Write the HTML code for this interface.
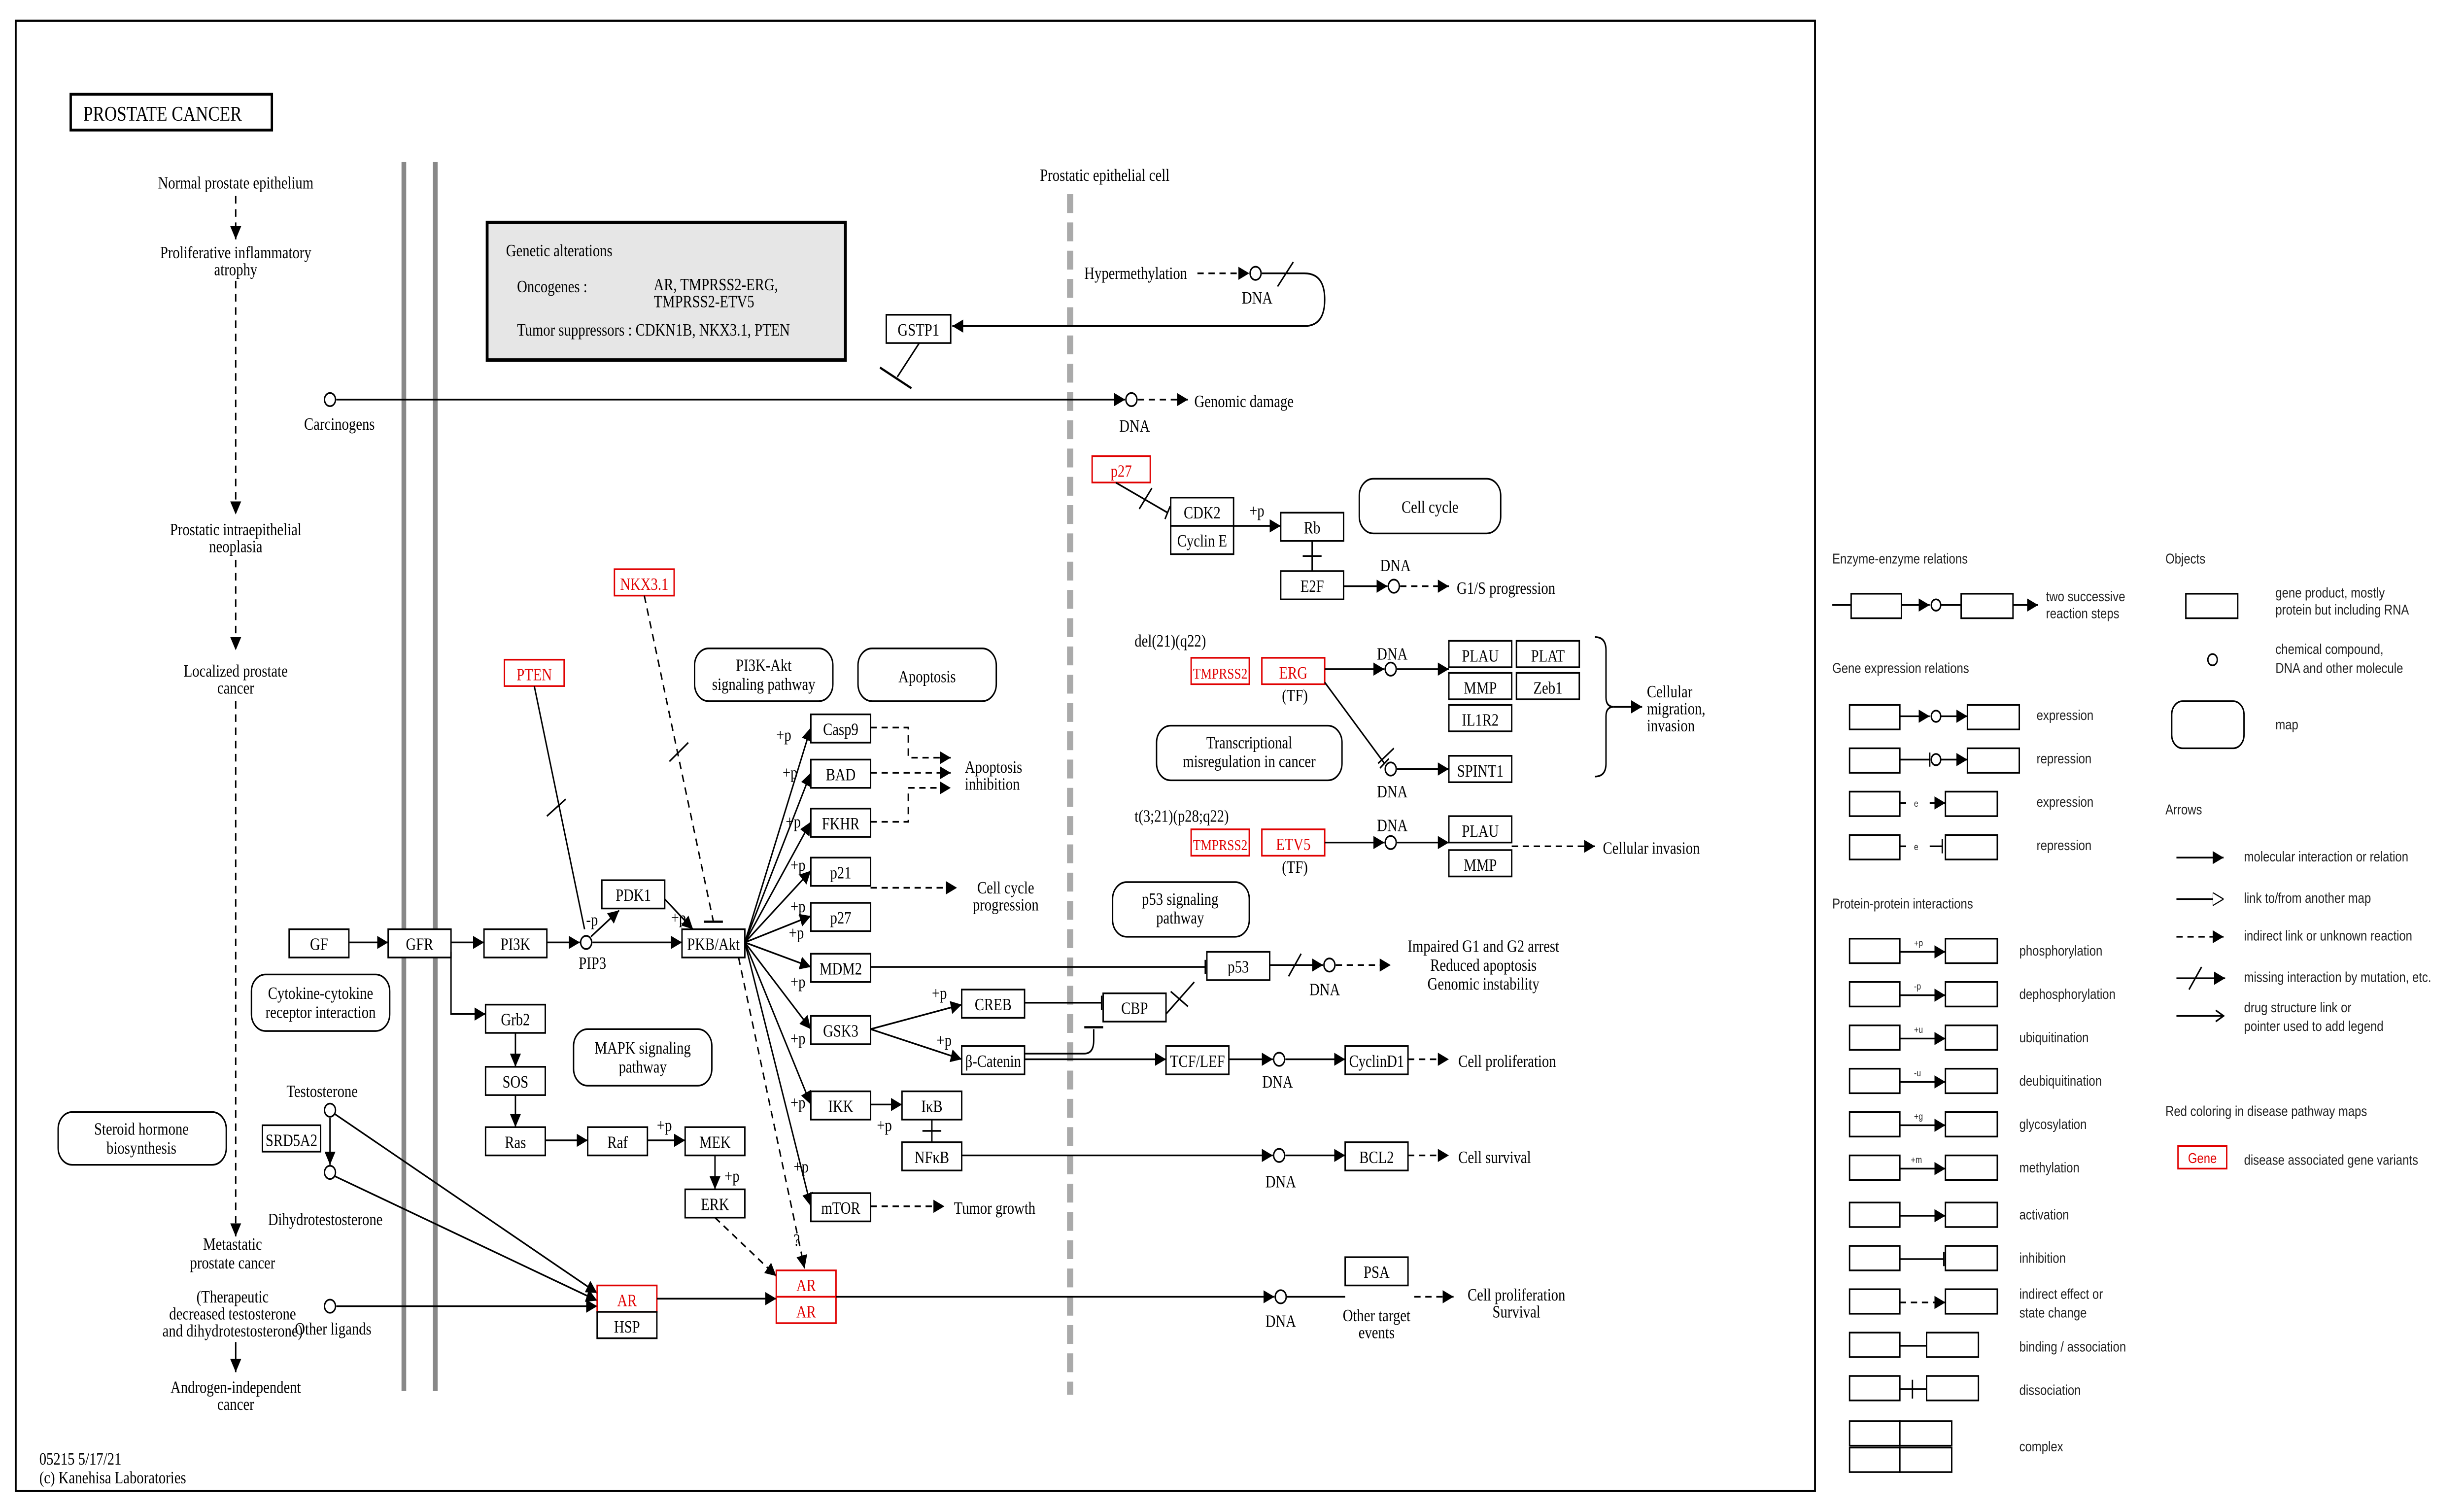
<!DOCTYPE html>
<html><head><meta charset="utf-8"><style>
html,body{margin:0;padding:0;background:#fff;overflow:hidden;width:100%;height:100%;}
svg{display:block;position:fixed;left:0;top:0;width:100vw;height:100vh;}
.s{font-family:"Liberation Serif",serif;font-size:9px;fill:#000;}
.l{font-family:"Liberation Sans",sans-serif;font-size:7.5px;fill:#222;}
.r{fill:#e00000;}
rect{fill:#fff;stroke:#000;stroke-width:0.9;}
line,path,polyline{stroke:#000;stroke-width:0.9;fill:none;}
.d{stroke-dasharray:4,3;}
circle{fill:#fff;stroke:#000;stroke-width:0.9;}
.rr{stroke:#e00000;}
</style></head><body>
<svg viewBox="0 0 1568 799" preserveAspectRatio="none">
<defs>
<marker id="a" viewBox="0 0 10 10" refX="10" refY="5" markerWidth="7" markerHeight="7" markerUnits="userSpaceOnUse" orient="auto"><path d="M0,0L10,5L0,10z" style="fill:#000;stroke:none"/></marker>
<marker id="o" viewBox="0 0 10 10" refX="10" refY="5" markerWidth="7" markerHeight="7" markerUnits="userSpaceOnUse" orient="auto"><path d="M0,0L10,5L0,10z" style="fill:#fff;stroke:#000"/></marker>
<marker id="t" viewBox="0 0 4 10" refX="2" refY="5" markerWidth="3" markerHeight="9" markerUnits="userSpaceOnUse" orient="auto"><path d="M2,0V10" style="stroke:#000;stroke-width:1.2"/></marker>
</defs>
<rect x="10" y="11" width="1145" height="780" style="stroke-width:1.2"/>
<rect x="45" y="50" width="128" height="19" style="stroke-width:1.5"/>
<text class="s" x="53" y="64" style="font-size:11px">PROSTATE CANCER</text>

<g class="s" text-anchor="middle">
<text x="150" y="100">Normal prostate epithelium</text>
<text x="150" y="137">Proliferative inflammatory</text><text x="150" y="146">atrophy</text>
<text x="150" y="284">Prostatic intraepithelial</text><text x="150" y="293">neoplasia</text>
<text x="150" y="359">Localized prostate</text><text x="150" y="368">cancer</text>
<text x="148" y="663">Metastatic</text><text x="148" y="673">prostate cancer</text>
<text x="148" y="691">(Therapeutic</text><text x="148" y="700">decreased testosterone</text><text x="148" y="709">and dihydrotestosterone)</text>
<text x="150" y="739">Androgen-independent</text><text x="150" y="748">cancer</text>
</g>
<line class="d" x1="150" y1="104" x2="150" y2="127" marker-end="url(#a)"/>
<line class="d" x1="150" y1="149" x2="150" y2="273" marker-end="url(#a)"/>
<line class="d" x1="150" y1="297" x2="150" y2="345" marker-end="url(#a)"/>
<line class="d" x1="150" y1="372" x2="150" y2="656" marker-end="url(#a)"/>
<line x1="150" y1="712" x2="150" y2="728" marker-end="url(#a)"/>

<line x1="257" y1="86" x2="257" y2="738" style="stroke:#888;stroke-width:3"/>
<line x1="277" y1="86" x2="277" y2="738" style="stroke:#888;stroke-width:3"/>
<line x1="681" y1="103" x2="681" y2="740" style="stroke:#aaa;stroke-width:4;stroke-dasharray:10,5"/>
<text class="s" x="703" y="96" text-anchor="middle">Prostatic epithelial cell</text>

<rect x="310" y="118" width="228" height="73" style="fill:#e6e6e6;stroke-width:1.8"/>
<text class="s" x="322" y="136">Genetic alterations</text>
<text class="s" x="329" y="155">Oncogenes :</text>
<text class="s" x="416" y="154">AR, TMPRSS2-ERG,</text>
<text class="s" x="416" y="163">TMPRSS2-ETV5</text>
<text class="s" x="329" y="178">Tumor suppressors :  CDKN1B, NKX3.1, PTEN</text>

<circle cx="210" cy="212" r="3.5"/>
<text class="s" x="216" y="228" text-anchor="middle">Carcinogens</text>
<line x1="214" y1="212" x2="716" y2="212" marker-end="url(#a)"/>
<circle cx="720" cy="212" r="3.5"/>
<line class="d" x1="724" y1="212" x2="756" y2="212" marker-end="url(#a)"/>
<text class="s" x="760" y="216">Genomic damage</text>
<text class="s" x="722" y="229" text-anchor="middle">DNA</text>

<text class="s" x="690" y="148">Hypermethylation</text>
<line class="d" x1="762" y1="145" x2="795" y2="145" marker-end="url(#a)"/>
<circle cx="799" cy="145" r="3.5"/>
<text class="s" x="800" y="161" text-anchor="middle">DNA</text>
<path d="M803,145H830Q843,145 843,159Q843,173 830,173H606" marker-end="url(#a)"/>
<line x1="813" y1="152" x2="823" y2="139"/>
<rect x="564" y="167" width="41" height="15"/><text class="s" x="584.5" y="178" text-anchor="middle">GSTP1</text>
<line x1="585" y1="182" x2="571" y2="200"/><line x1="560" y1="195" x2="580" y2="206" style="stroke-width:1.2"/>

<rect x="695" y="242" width="37" height="14" class="rr"/><text class="s r" x="713.5" y="253" text-anchor="middle">p27</text>
<line x1="710" y1="256" x2="743" y2="272" marker-end="url(#t)"/>
<line x1="725" y1="270" x2="733" y2="259"/>
<rect x="745" y="264" width="40" height="15"/><text class="s" x="765" y="275" text-anchor="middle">CDK2</text>
<rect x="745" y="279" width="40" height="15"/><text class="s" x="765" y="290" text-anchor="middle">Cyclin E</text>
<text class="s" x="795" y="274">+p</text>
<line x1="785" y1="279" x2="815" y2="279" marker-end="url(#a)"/>
<rect x="815" y="272" width="40" height="15"/><text class="s" x="835" y="283" text-anchor="middle">Rb</text>
<line x1="835" y1="287" x2="835" y2="303"/><line x1="829" y1="295" x2="841" y2="295"/>
<rect x="815" y="303" width="40" height="15"/><text class="s" x="835" y="314" text-anchor="middle">E2F</text>
<line x1="855" y1="311" x2="883" y2="311" marker-end="url(#a)"/>
<circle cx="887" cy="311" r="3.5"/><text class="s" x="888" y="303" text-anchor="middle">DNA</text>
<line class="d" x1="891" y1="311" x2="922" y2="311" marker-end="url(#a)"/>
<text class="s" x="927" y="315">G1/S progression</text>
<rect x="865" y="254" width="90" height="29" rx="9"/><text class="s" x="910" y="272" text-anchor="middle">Cell cycle</text>

<rect x="391" y="302" width="38" height="14" class="rr"/><text class="s r" x="410" y="313" text-anchor="middle">NKX3.1</text>
<line class="d" x1="410" y1="316" x2="454" y2="489"/>
<line x1="448" y1="489" x2="460" y2="489" style="stroke-width:1.2"/>
<line x1="426" y1="404" x2="438" y2="394"/>
<rect x="321" y="350" width="38" height="14" class="rr"/><text class="s r" x="340" y="361" text-anchor="middle">PTEN</text>
<line x1="340" y1="364" x2="372" y2="493"/>
<line x1="348" y1="433" x2="360" y2="424"/>
<rect x="442" y="344" width="88" height="28" rx="9"/><text class="s" x="486" y="356" text-anchor="middle">PI3K-Akt</text><text class="s" x="486" y="366" text-anchor="middle">signaling pathway</text>
<rect x="546" y="344" width="88" height="28" rx="9"/><text class="s" x="590" y="362" text-anchor="middle">Apoptosis</text>

<rect x="184" y="493" width="38" height="15"/><text class="s" x="203" y="504" text-anchor="middle">GF</text>
<line x1="222" y1="500" x2="247" y2="500" marker-end="url(#a)"/>
<rect x="247" y="493" width="40" height="15"/><text class="s" x="267" y="504" text-anchor="middle">GFR</text>
<line x1="287" y1="500" x2="308" y2="500" marker-end="url(#a)"/>
<rect x="308" y="493" width="40" height="15"/><text class="s" x="328" y="504" text-anchor="middle">PI3K</text>
<line x1="348" y1="500" x2="369" y2="500" marker-end="url(#a)"/>
<circle cx="373" cy="500" r="3.5"/><text class="s" x="377" y="514" text-anchor="middle">PIP3</text>
<text class="s" x="373" y="491">-p</text>
<line x1="376" y1="497" x2="394" y2="483" marker-end="url(#a)"/>
<rect x="383" y="467" width="40" height="15"/><text class="s" x="403" y="478" text-anchor="middle">PDK1</text>
<text class="s" x="427" y="490">+p</text>
<line x1="423" y1="477" x2="441" y2="493" marker-end="url(#a)"/>
<line x1="377" y1="500" x2="434" y2="500" marker-end="url(#a)"/>
<rect x="434" y="493" width="40" height="15"/><text class="s" x="454" y="504" text-anchor="middle">PKB/Akt</text>

<g>
<line x1="474" y1="500" x2="516" y2="386" marker-end="url(#a)"/>
<line x1="474" y1="500" x2="516" y2="410" marker-end="url(#a)"/>
<line x1="474" y1="500" x2="516" y2="436" marker-end="url(#a)"/>
<line x1="474" y1="500" x2="516" y2="462" marker-end="url(#a)"/>
<line x1="474" y1="500" x2="516" y2="486" marker-end="url(#a)"/>
<line x1="474" y1="500" x2="516" y2="513" marker-end="url(#a)"/>
<line x1="474" y1="500" x2="516" y2="546" marker-end="url(#a)"/>
<line x1="474" y1="500" x2="516" y2="586" marker-end="url(#a)"/>
<line x1="474" y1="500" x2="516" y2="640" marker-end="url(#a)"/>
<line class="d" x1="470" y1="508" x2="512" y2="673" marker-end="url(#a)"/>
</g>
<g class="s">
<text x="494" y="393">+p</text><text x="498" y="413">+p</text><text x="500" y="439">+p</text><text x="503" y="462">+p</text>
<text x="503" y="484">+p</text><text x="502" y="498">+p</text><text x="503" y="524">+p</text><text x="503" y="554">+p</text>
<text x="503" y="588">+p</text><text x="505" y="622">+p</text><text x="505" y="661">?</text>
</g>
<g class="s" text-anchor="middle">
<rect x="516" y="379" width="38" height="15"/><text x="535" y="390">Casp9</text>
<rect x="516" y="403" width="38" height="15"/><text x="535" y="414">BAD</text>
<rect x="516" y="429" width="38" height="15"/><text x="535" y="440">FKHR</text>
<rect x="516" y="455" width="38" height="15"/><text x="535" y="466">p21</text>
<rect x="516" y="479" width="38" height="15"/><text x="535" y="490">p27</text>
<rect x="516" y="506" width="38" height="15"/><text x="535" y="517">MDM2</text>
<rect x="516" y="539" width="38" height="15"/><text x="535" y="550">GSK3</text>
<rect x="516" y="579" width="38" height="15"/><text x="535" y="590">IKK</text>
<rect x="516" y="633" width="38" height="15"/><text x="535" y="644">mTOR</text>
</g>
<path class="d" d="M554,386H578V402H605" marker-end="url(#a)"/>
<line class="d" x1="554" y1="410" x2="605" y2="410" marker-end="url(#a)"/>
<path class="d" d="M554,436H578V418H605" marker-end="url(#a)"/>
<text class="s" x="614" y="410">Apoptosis</text><text class="s" x="614" y="419">inhibition</text>
<line class="d" x1="554" y1="471" x2="609" y2="471" marker-end="url(#a)"/>
<text class="s" x="640" y="474" text-anchor="middle">Cell cycle</text><text class="s" x="640" y="483" text-anchor="middle">progression</text>
<line x1="554" y1="513" x2="767" y2="513" marker-end="url(#t)"/>
<rect x="768" y="505" width="40" height="15"/><text class="s" x="788" y="516" text-anchor="middle">p53</text>
<line x1="808" y1="512" x2="842" y2="512" marker-end="url(#a)"/>
<line x1="820" y1="518" x2="828" y2="506"/>
<circle cx="846" cy="512" r="3.5"/><text class="s" x="843" y="528" text-anchor="middle">DNA</text>
<line class="d" x1="850" y1="512" x2="885" y2="512" marker-end="url(#a)"/>
<text class="s" x="944" y="505" text-anchor="middle">Impaired G1 and G2 arrest</text>
<text class="s" x="944" y="515" text-anchor="middle">Reduced apoptosis</text>
<text class="s" x="944" y="525" text-anchor="middle">Genomic instability</text>
<rect x="708" y="468" width="87" height="29" rx="9"/><text class="s" x="751" y="480" text-anchor="middle">p53 signaling</text><text class="s" x="751" y="490" text-anchor="middle">pathway</text>

<line x1="554" y1="546" x2="612" y2="533" marker-end="url(#a)"/>
<line x1="554" y1="546" x2="612" y2="562" marker-end="url(#a)"/>
<text class="s" x="593" y="530">+p</text><text class="s" x="596" y="555">+p</text>
<rect x="612" y="525" width="40" height="15"/><text class="s" x="632" y="536" text-anchor="middle">CREB</text>
<rect x="612" y="555" width="40" height="15"/><text class="s" x="632" y="566" text-anchor="middle">β-Catenin</text>
<line x1="652" y1="532" x2="701" y2="532" marker-end="url(#t)"/>
<path d="M652,559H690Q696,559 696,552V546"/><line x1="690" y1="545" x2="702" y2="545" style="stroke-width:1.2"/>
<rect x="702" y="527" width="40" height="15"/><text class="s" x="722" y="538" text-anchor="middle">CBP</text>
<line x1="742" y1="538" x2="760" y2="521"/>
<line x1="745" y1="526" x2="756" y2="534"/>
<line x1="652" y1="562" x2="742" y2="562" marker-end="url(#a)"/>
<rect x="742" y="555" width="40" height="15"/><text class="s" x="762" y="566" text-anchor="middle">TCF/LEF</text>
<line x1="782" y1="562" x2="810" y2="562" marker-end="url(#a)"/>
<circle cx="814" cy="562" r="3.5"/><text class="s" x="813" y="577" text-anchor="middle">DNA</text>
<line x1="818" y1="562" x2="856" y2="562" marker-end="url(#a)"/>
<rect x="856" y="555" width="40" height="15"/><text class="s" x="876" y="566" text-anchor="middle">CyclinD1</text>
<line class="d" x1="896" y1="562" x2="922" y2="562" marker-end="url(#a)"/>
<text class="s" x="928" y="566">Cell proliferation</text>

<line x1="554" y1="586" x2="574" y2="586" marker-end="url(#a)"/>
<rect x="574" y="579" width="38" height="15"/><text class="s" x="593" y="590" text-anchor="middle">IκB</text>
<line x1="593" y1="594" x2="593" y2="606"/><line x1="587" y1="600" x2="599" y2="600"/>
<text class="s" x="558" y="600">+p</text>
<rect x="574" y="606" width="38" height="15"/><text class="s" x="593" y="617" text-anchor="middle">NFκB</text>
<line x1="612" y1="613" x2="810" y2="613" marker-end="url(#a)"/>
<circle cx="814" cy="613" r="3.5"/><text class="s" x="815" y="630" text-anchor="middle">DNA</text>
<line x1="818" y1="613" x2="856" y2="613" marker-end="url(#a)"/>
<rect x="856" y="606" width="40" height="15"/><text class="s" x="876" y="617" text-anchor="middle">BCL2</text>
<line class="d" x1="896" y1="613" x2="922" y2="613" marker-end="url(#a)"/>
<text class="s" x="928" y="617">Cell survival</text>
<line class="d" x1="554" y1="640" x2="601" y2="640" marker-end="url(#a)"/>
<text class="s" x="607" y="644">Tumor growth</text>

<rect x="160" y="517" width="88" height="30" rx="9"/><text class="s" x="204" y="530" text-anchor="middle">Cytokine-cytokine</text><text class="s" x="204" y="540" text-anchor="middle">receptor interaction</text>
<path d="M287,505V538H309" marker-end="url(#a)"/>
<rect x="309" y="533" width="38" height="15"/><text class="s" x="328" y="544" text-anchor="middle">Grb2</text>
<line x1="328" y1="548" x2="328" y2="566" marker-end="url(#a)"/>
<rect x="309" y="566" width="38" height="15"/><text class="s" x="328" y="577" text-anchor="middle">SOS</text>
<line x1="328" y1="581" x2="328" y2="598" marker-end="url(#a)"/>
<rect x="309" y="598" width="38" height="15"/><text class="s" x="328" y="609" text-anchor="middle">Ras</text>
<line x1="347" y1="605" x2="374" y2="605" marker-end="url(#a)"/>
<rect x="374" y="598" width="38" height="15"/><text class="s" x="393" y="609" text-anchor="middle">Raf</text>
<text class="s" x="418" y="600">+p</text>
<line x1="412" y1="605" x2="436" y2="605" marker-end="url(#a)"/>
<rect x="436" y="598" width="38" height="15"/><text class="s" x="455" y="609" text-anchor="middle">MEK</text>
<line x1="455" y1="613" x2="455" y2="631" marker-end="url(#a)"/>
<text class="s" x="461" y="627">+p</text>
<rect x="436" y="631" width="38" height="15"/><text class="s" x="455" y="642" text-anchor="middle">ERK</text>
<line class="d" x1="455" y1="646" x2="494" y2="677" marker-end="url(#a)"/>
<rect x="365" y="546" width="88" height="30" rx="9"/><text class="s" x="409" y="559" text-anchor="middle">MAPK signaling</text><text class="s" x="409" y="569" text-anchor="middle">pathway</text>

<rect x="37" y="590" width="107" height="28" rx="9"/><text class="s" x="90" y="602" text-anchor="middle">Steroid hormone</text><text class="s" x="90" y="612" text-anchor="middle">biosynthesis</text>
<text class="s" x="205" y="582" text-anchor="middle">Testosterone</text>
<circle cx="210" cy="589" r="3.5"/>
<rect x="167" y="597" width="37" height="14"/><text class="s" x="185.5" y="608" text-anchor="middle">SRD5A2</text>
<line x1="210" y1="593" x2="210" y2="618" marker-end="url(#a)"/>
<circle cx="210" cy="622" r="3.5"/>
<text class="s" x="207" y="650" text-anchor="middle">Dihydrotestosterone</text>
<line x1="213" y1="591" x2="380" y2="686" marker-end="url(#a)"/>
<line x1="213" y1="624" x2="380" y2="690" marker-end="url(#a)"/>
<circle cx="210" cy="693" r="3.5"/><text class="s" x="212" y="708" text-anchor="middle">Other ligands</text>
<line x1="214" y1="693" x2="380" y2="693" marker-end="url(#a)"/>
<rect x="380" y="682" width="38" height="14" class="rr"/><text class="s r" x="399" y="693" text-anchor="middle">AR</text>
<rect x="380" y="696" width="38" height="14"/><text class="s" x="399" y="707" text-anchor="middle">HSP</text>
<line x1="418" y1="689" x2="494" y2="689" marker-end="url(#a)"/>
<rect x="494" y="674" width="38" height="14" class="rr"/><text class="s r" x="513" y="685" text-anchor="middle">AR</text>
<rect x="494" y="688" width="38" height="14" class="rr"/><text class="s r" x="513" y="699" text-anchor="middle">AR</text>
<line x1="532" y1="688" x2="811" y2="688" marker-end="url(#a)"/>
<circle cx="815" cy="688" r="3.5"/><text class="s" x="815" y="704" text-anchor="middle">DNA</text>
<rect x="856" y="667" width="40" height="15"/><text class="s" x="876" y="678" text-anchor="middle">PSA</text>
<line x1="819" y1="688" x2="856" y2="688"/>
<text class="s" x="876" y="701" text-anchor="middle">Other target</text><text class="s" x="876" y="710" text-anchor="middle">events</text>
<line class="d" x1="900" y1="688" x2="925" y2="688" marker-end="url(#a)"/>
<text class="s" x="965" y="690" text-anchor="middle">Cell proliferation</text><text class="s" x="965" y="699" text-anchor="middle">Survival</text>

<text class="s" x="722" y="343">del(21)(q22)</text>
<rect x="758" y="349" width="37" height="14" class="rr"/><text class="s r" x="776.5" y="360" text-anchor="middle" style="font-size:8px">TMPRSS2</text>
<rect x="803" y="349" width="40" height="14" class="rr"/><text class="s r" x="823" y="360" text-anchor="middle">ERG</text>
<text class="s" x="824" y="372" text-anchor="middle">(TF)</text>
<line x1="843" y1="355" x2="881" y2="355" marker-end="url(#a)"/>
<circle cx="885" cy="355" r="3.5"/><text class="s" x="886" y="350" text-anchor="middle">DNA</text>
<line x1="889" y1="355" x2="922" y2="355" marker-end="url(#a)"/>
<g class="s" text-anchor="middle">
<rect x="922" y="340" width="40" height="14"/><text x="942" y="351">PLAU</text>
<rect x="965" y="340" width="40" height="14"/><text x="985" y="351">PLAT</text>
<rect x="922" y="357" width="40" height="14"/><text x="942" y="368">MMP</text>
<rect x="965" y="357" width="40" height="14"/><text x="985" y="368">Zeb1</text>
<rect x="922" y="374" width="40" height="14"/><text x="942" y="385">IL1R2</text>
<rect x="922" y="401" width="40" height="14"/><text x="942" y="412">SPINT1</text>
</g>
<line x1="843" y1="362" x2="881" y2="405" marker-end="url(#t)"/>
<line x1="877" y1="405" x2="887" y2="397"/>
<circle cx="885" cy="408" r="3.5"/><text class="s" x="886" y="423" text-anchor="middle">DNA</text>
<line x1="889" y1="408" x2="922" y2="408" marker-end="url(#a)"/>
<path d="M1015,338Q1022,338 1022,345V370Q1022,375 1027,375Q1022,375 1022,380V405Q1022,412 1015,412"/>
<line x1="1027" y1="375" x2="1045" y2="375" marker-end="url(#a)"/>
<text class="s" x="1048" y="370">Cellular</text><text class="s" x="1048" y="379">migration,</text><text class="s" x="1048" y="388">invasion</text>
<rect x="736" y="385" width="118" height="29" rx="9"/><text class="s" x="795" y="397" text-anchor="middle">Transcriptional</text><text class="s" x="795" y="407" text-anchor="middle">misregulation in cancer</text>
<text class="s" x="722" y="436">t(3;21)(p28;q22)</text>
<rect x="758" y="440" width="37" height="14" class="rr"/><text class="s r" x="776.5" y="451" text-anchor="middle" style="font-size:8px">TMPRSS2</text>
<rect x="803" y="440" width="40" height="14" class="rr"/><text class="s r" x="823" y="451" text-anchor="middle">ETV5</text>
<text class="s" x="824" y="463" text-anchor="middle">(TF)</text>
<line x1="843" y1="447" x2="881" y2="447" marker-end="url(#a)"/>
<circle cx="885" cy="447" r="3.5"/><text class="s" x="886" y="441" text-anchor="middle">DNA</text>
<line x1="889" y1="447" x2="922" y2="447" marker-end="url(#a)"/>
<rect x="922" y="433" width="40" height="14"/><text class="s" x="942" y="444" text-anchor="middle">PLAU</text>
<rect x="922" y="451" width="40" height="14"/><text class="s" x="942" y="462" text-anchor="middle">MMP</text>
<line class="d" x1="962" y1="449" x2="1015" y2="449" marker-end="url(#a)"/>
<text class="s" x="1020" y="453">Cellular invasion</text>

<text class="s" x="25" y="777">05215 5/17/21</text>
<text class="s" x="25" y="787">(c) Kanehisa Laboratories</text>

<g class="l">
<text x="1166" y="299">Enzyme-enzyme relations</text>
<text x="1378" y="299">Objects</text>
<text x="1166" y="357">Gene expression relations</text>
<text x="1378" y="432">Arrows</text>
<text x="1166" y="482">Protein-protein interactions</text>
<text x="1378" y="592">Red coloring in disease pathway maps</text>
<text x="1302" y="319">two successive</text><text x="1302" y="328">reaction steps</text>
<text x="1448" y="317">gene product, mostly</text><text x="1448" y="326">protein but including RNA</text>
<text x="1448" y="347">chemical compound,</text><text x="1448" y="357">DNA and other molecule</text>
<text x="1448" y="387">map</text>
<text x="1296" y="382">expression</text><text x="1296" y="405">repression</text>
<text x="1296" y="428">expression</text><text x="1296" y="451">repression</text>
<text x="1428" y="457">molecular interaction or relation</text>
<text x="1428" y="479">link to/from another map</text>
<text x="1428" y="499">indirect link or unknown reaction</text>
<text x="1428" y="521">missing interaction by mutation, etc.</text>
<text x="1428" y="537">drug structure link or</text><text x="1428" y="547">pointer used to add legend</text>
<text x="1428" y="618">disease associated gene variants</text>
<text x="1285" y="507">phosphorylation</text><text x="1285" y="530">dephosphorylation</text>
<text x="1285" y="553">ubiquitination</text><text x="1285" y="576">deubiquitination</text>
<text x="1285" y="599">glycosylation</text><text x="1285" y="622">methylation</text>
<text x="1285" y="647">activation</text><text x="1285" y="670">inhibition</text>
<text x="1285" y="689">indirect effect or</text><text x="1285" y="699">state change</text>
<text x="1285" y="717">binding / association</text><text x="1285" y="740">dissociation</text>
<text x="1285" y="770">complex</text>
</g>
<g style="stroke-width:0.8">
<line x1="1166" y1="321" x2="1178" y2="321"/>
<rect x="1178" y="315" width="32" height="13"/>
<line x1="1210" y1="321" x2="1228" y2="321" marker-end="url(#a)"/>
<circle cx="1232" cy="321" r="3"/>
<line x1="1235" y1="321" x2="1248" y2="321"/>
<rect x="1248" y="315" width="33" height="13"/>
<line x1="1281" y1="321" x2="1297" y2="321" marker-end="url(#a)"/>
<rect x="1391" y="315" width="33" height="13"/>
<circle cx="1408" cy="350" r="3"/>
<rect x="1382" y="372" width="46" height="25" rx="7"/>
<rect x="1177" y="374" width="32" height="13"/><line x1="1209" y1="380" x2="1228" y2="380" marker-end="url(#a)"/><circle cx="1232" cy="380" r="3"/><line x1="1235" y1="380" x2="1252" y2="380" marker-end="url(#a)"/><rect x="1252" y="374" width="33" height="13"/>
<rect x="1177" y="397" width="32" height="13"/><line x1="1209" y1="403" x2="1228" y2="403" marker-end="url(#t)"/><circle cx="1232" cy="403" r="3"/><line x1="1235" y1="403" x2="1252" y2="403" marker-end="url(#a)"/><rect x="1252" y="397" width="33" height="13"/>
<rect x="1177" y="420" width="32" height="13"/><line x1="1209" y1="426" x2="1213" y2="426"/><text class="l" x="1218" y="428" style="font-size:5px">e</text><line x1="1228" y1="426" x2="1238" y2="426" marker-end="url(#a)"/><rect x="1238" y="420" width="33" height="13"/>
<rect x="1177" y="443" width="32" height="13"/><line x1="1209" y1="449" x2="1213" y2="449"/><text class="l" x="1218" y="451" style="font-size:5px">e</text><line x1="1228" y1="449" x2="1236" y2="449" marker-end="url(#t)"/><rect x="1238" y="443" width="33" height="13"/>
<line x1="1385" y1="455" x2="1415" y2="455" marker-end="url(#a)"/>
<line x1="1385" y1="477" x2="1415" y2="477" marker-end="url(#o)"/>
<line class="d" x1="1385" y1="497" x2="1415" y2="497" marker-end="url(#a)"/>
<line x1="1385" y1="519" x2="1416" y2="519" marker-end="url(#a)"/><line x1="1393" y1="525" x2="1401" y2="513"/>
<polyline points="1385,539 1415,539"/><polyline points="1410,536 1415,539 1410,542"/>
<rect x="1386" y="608" width="31" height="12" class="rr"/><text class="l r" x="1401.5" y="617" text-anchor="middle">Gene</text>
<g>
<rect x="1177" y="498" width="32" height="13"/><line x1="1209" y1="505" x2="1238" y2="505" marker-end="url(#a)"/><rect x="1238" y="498" width="33" height="13"/><text class="l" x="1218" y="502" style="font-size:5px">+p</text>
<rect x="1177" y="521" width="32" height="13"/><line x1="1209" y1="528" x2="1238" y2="528" marker-end="url(#a)"/><rect x="1238" y="521" width="33" height="13"/><text class="l" x="1218" y="525" style="font-size:5px">-p</text>
<rect x="1177" y="544" width="32" height="13"/><line x1="1209" y1="551" x2="1238" y2="551" marker-end="url(#a)"/><rect x="1238" y="544" width="33" height="13"/><text class="l" x="1218" y="548" style="font-size:5px">+u</text>
<rect x="1177" y="567" width="32" height="13"/><line x1="1209" y1="574" x2="1238" y2="574" marker-end="url(#a)"/><rect x="1238" y="567" width="33" height="13"/><text class="l" x="1218" y="571" style="font-size:5px">-u</text>
<rect x="1177" y="590" width="32" height="13"/><line x1="1209" y1="597" x2="1238" y2="597" marker-end="url(#a)"/><rect x="1238" y="590" width="33" height="13"/><text class="l" x="1218" y="594" style="font-size:5px">+g</text>
<rect x="1177" y="613" width="32" height="13"/><line x1="1209" y1="620" x2="1238" y2="620" marker-end="url(#a)"/><rect x="1238" y="613" width="33" height="13"/><text class="l" x="1216" y="617" style="font-size:5px">+m</text>
<rect x="1177" y="638" width="32" height="13"/><line x1="1209" y1="645" x2="1238" y2="645" marker-end="url(#a)"/><rect x="1238" y="638" width="33" height="13"/>
<rect x="1177" y="661" width="32" height="13"/><line x1="1209" y1="668" x2="1237" y2="668" marker-end="url(#t)"/><rect x="1238" y="661" width="33" height="13"/>
<rect x="1177" y="684" width="32" height="13"/><line class="d" x1="1209" y1="691" x2="1238" y2="691" marker-end="url(#a)"/><rect x="1238" y="684" width="33" height="13"/>
<rect x="1177" y="707" width="32" height="13"/><line x1="1209" y1="714" x2="1226" y2="714"/><rect x="1226" y="707" width="33" height="13"/>
<rect x="1177" y="730" width="32" height="13"/><line x1="1209" y1="737" x2="1226" y2="737"/><line x1="1217" y1="732" x2="1217" y2="742"/><rect x="1226" y="730" width="33" height="13"/>
<rect x="1177" y="754" width="32" height="13"/><rect x="1209" y="754" width="33" height="13"/>
<rect x="1177" y="768" width="32" height="13"/><rect x="1209" y="768" width="33" height="13"/>
</g>
</g>
</svg>
</body></html>
